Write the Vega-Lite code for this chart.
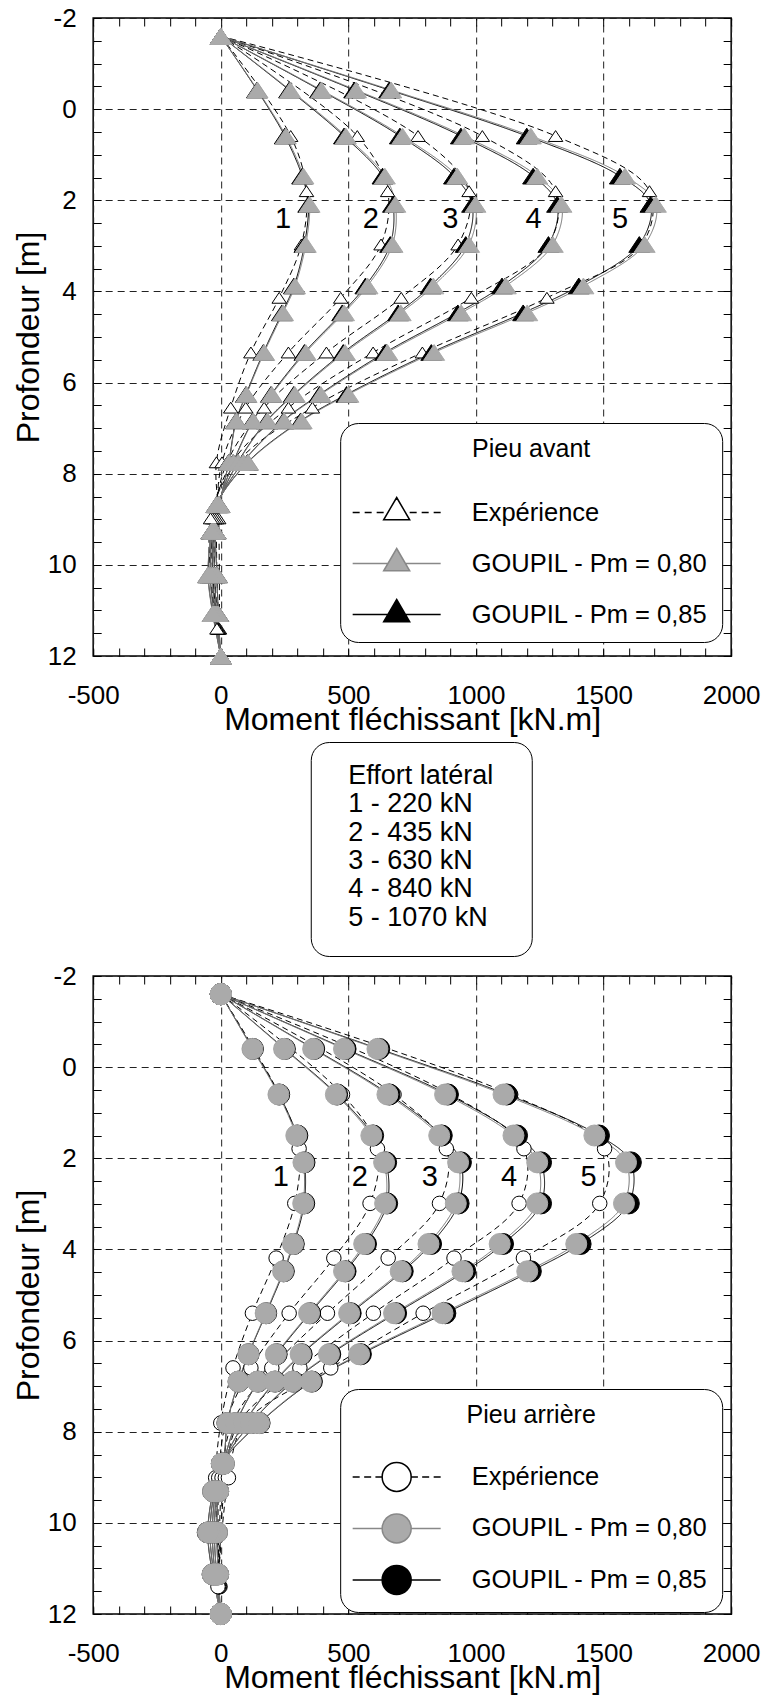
{
"$schema": "https://vega.github.io/schema/vega-lite/v6.json",
"background": "white",
"padding": {"left": 11, "top": 4, "right": 5, "bottom": 5},
"center": true,
"spacing": 5,
"config": {
  "font": "Liberation Sans",
  "view": {"stroke": "black", "strokeWidth": 1.5},
  "axis": {"labelFont": "Liberation Sans", "titleFont": "Liberation Sans", "labelColor": "black", "titleColor": "black", "titleFontWeight": "normal", "labelFontSize": 26, "titleFontSize": 32, "tickColor": "black", "tickWidth": 1, "gridColor": "#222222", "gridDash": [7, 5], "gridWidth": 1, "domain": false, "labelOverlap": false, "labelFlush": false},
  "legend": {"titleFont": "Liberation Sans", "labelFont": "Liberation Sans", "titleFontWeight": "normal", "titleColor": "black", "labelColor": "black"}
},
"datasets": {
"avant": [
{"serie":"Expérience","charge":1,"prof":-1.6,"moment":0},{"serie":"Expérience","charge":1,"prof":0.59,"moment":274},{"serie":"Expérience","charge":1,"prof":1.8,"moment":336},{"serie":"Expérience","charge":1,"prof":2.97,"moment":316},{"serie":"Expérience","charge":1,"prof":4.14,"moment":229},{"serie":"Expérience","charge":1,"prof":5.34,"moment":118},{"serie":"Expérience","charge":1,"prof":6.55,"moment":39},{"serie":"Expérience","charge":1,"prof":7.75,"moment":-17},{"serie":"Expérience","charge":1,"prof":8.98,"moment":-8},{"serie":"Expérience","charge":1,"prof":11.4,"moment":-5},
{"serie":"Expérience","charge":2,"prof":-1.6,"moment":0},{"serie":"Expérience","charge":2,"prof":0.59,"moment":535},{"serie":"Expérience","charge":2,"prof":1.8,"moment":654},{"serie":"Expérience","charge":2,"prof":2.97,"moment":628},{"serie":"Expérience","charge":2,"prof":4.14,"moment":470},{"serie":"Expérience","charge":2,"prof":5.34,"moment":265},{"serie":"Expérience","charge":2,"prof":6.55,"moment":98},{"serie":"Expérience","charge":2,"prof":7.75,"moment":5},{"serie":"Expérience","charge":2,"prof":8.98,"moment":-16},{"serie":"Expérience","charge":2,"prof":11.4,"moment":-8},
{"serie":"Expérience","charge":3,"prof":-1.6,"moment":0},{"serie":"Expérience","charge":3,"prof":0.59,"moment":773},{"serie":"Expérience","charge":3,"prof":1.8,"moment":973},{"serie":"Expérience","charge":3,"prof":2.97,"moment":930},{"serie":"Expérience","charge":3,"prof":4.14,"moment":707},{"serie":"Expérience","charge":3,"prof":5.34,"moment":414},{"serie":"Expérience","charge":3,"prof":6.55,"moment":170},{"serie":"Expérience","charge":3,"prof":7.75,"moment":25},{"serie":"Expérience","charge":3,"prof":8.98,"moment":-24},{"serie":"Expérience","charge":3,"prof":11.4,"moment":-10},
{"serie":"Expérience","charge":4,"prof":-1.6,"moment":0},{"serie":"Expérience","charge":4,"prof":0.59,"moment":1025},{"serie":"Expérience","charge":4,"prof":1.8,"moment":1312},{"serie":"Expérience","charge":4,"prof":2.97,"moment":1284},{"serie":"Expérience","charge":4,"prof":4.14,"moment":982},{"serie":"Expérience","charge":4,"prof":5.34,"moment":597},{"serie":"Expérience","charge":4,"prof":6.55,"moment":265},{"serie":"Expérience","charge":4,"prof":7.75,"moment":45},{"serie":"Expérience","charge":4,"prof":8.98,"moment":-32},{"serie":"Expérience","charge":4,"prof":11.4,"moment":-12},
{"serie":"Expérience","charge":5,"prof":-1.6,"moment":0},{"serie":"Expérience","charge":5,"prof":0.59,"moment":1312},{"serie":"Expérience","charge":5,"prof":1.8,"moment":1680},{"serie":"Expérience","charge":5,"prof":2.97,"moment":1650},{"serie":"Expérience","charge":5,"prof":4.14,"moment":1278},{"serie":"Expérience","charge":5,"prof":5.34,"moment":790},{"serie":"Expérience","charge":5,"prof":6.55,"moment":359},{"serie":"Expérience","charge":5,"prof":7.75,"moment":65},{"serie":"Expérience","charge":5,"prof":8.98,"moment":-40},{"serie":"Expérience","charge":5,"prof":11.4,"moment":-15},
{"serie":"GOUPIL - Pm = 0,85","charge":1,"prof":-1.6,"moment":0},{"serie":"GOUPIL - Pm = 0,85","charge":1,"prof":-0.42,"moment":142},{"serie":"GOUPIL - Pm = 0,85","charge":1,"prof":0.59,"moment":251},{"serie":"GOUPIL - Pm = 0,85","charge":1,"prof":1.47,"moment":319},{"serie":"GOUPIL - Pm = 0,85","charge":1,"prof":2.09,"moment":343},{"serie":"GOUPIL - Pm = 0,85","charge":1,"prof":2.97,"moment":328},{"serie":"GOUPIL - Pm = 0,85","charge":1,"prof":3.88,"moment":287},{"serie":"GOUPIL - Pm = 0,85","charge":1,"prof":4.47,"moment":240},{"serie":"GOUPIL - Pm = 0,85","charge":1,"prof":5.34,"moment":167},{"serie":"GOUPIL - Pm = 0,85","charge":1,"prof":6.26,"moment":99},{"serie":"GOUPIL - Pm = 0,85","charge":1,"prof":6.84,"moment":60},{"serie":"GOUPIL - Pm = 0,85","charge":1,"prof":7.75,"moment":31},{"serie":"GOUPIL - Pm = 0,85","charge":1,"prof":8.68,"moment":-5},{"serie":"GOUPIL - Pm = 0,85","charge":1,"prof":9.26,"moment":-20},{"serie":"GOUPIL - Pm = 0,85","charge":1,"prof":10.22,"moment":-15},{"serie":"GOUPIL - Pm = 0,85","charge":1,"prof":11.07,"moment":-10},{"serie":"GOUPIL - Pm = 0,85","charge":1,"prof":12,"moment":0},
{"serie":"GOUPIL - Pm = 0,85","charge":2,"prof":-1.6,"moment":0},{"serie":"GOUPIL - Pm = 0,85","charge":2,"prof":-0.42,"moment":268},{"serie":"GOUPIL - Pm = 0,85","charge":2,"prof":0.59,"moment":483},{"serie":"GOUPIL - Pm = 0,85","charge":2,"prof":1.47,"moment":634},{"serie":"GOUPIL - Pm = 0,85","charge":2,"prof":2.09,"moment":675},{"serie":"GOUPIL - Pm = 0,85","charge":2,"prof":2.97,"moment":664},{"serie":"GOUPIL - Pm = 0,85","charge":2,"prof":3.88,"moment":567},{"serie":"GOUPIL - Pm = 0,85","charge":2,"prof":4.47,"moment":476},{"serie":"GOUPIL - Pm = 0,85","charge":2,"prof":5.34,"moment":328},{"serie":"GOUPIL - Pm = 0,85","charge":2,"prof":6.26,"moment":197},{"serie":"GOUPIL - Pm = 0,85","charge":2,"prof":6.84,"moment":125},{"serie":"GOUPIL - Pm = 0,85","charge":2,"prof":7.75,"moment":49},{"serie":"GOUPIL - Pm = 0,85","charge":2,"prof":8.68,"moment":-8},{"serie":"GOUPIL - Pm = 0,85","charge":2,"prof":9.26,"moment":-25},{"serie":"GOUPIL - Pm = 0,85","charge":2,"prof":10.22,"moment":-24},{"serie":"GOUPIL - Pm = 0,85","charge":2,"prof":11.07,"moment":-16},{"serie":"GOUPIL - Pm = 0,85","charge":2,"prof":12,"moment":0},
{"serie":"GOUPIL - Pm = 0,85","charge":3,"prof":-1.6,"moment":0},{"serie":"GOUPIL - Pm = 0,85","charge":3,"prof":-0.42,"moment":389},{"serie":"GOUPIL - Pm = 0,85","charge":3,"prof":0.59,"moment":702},{"serie":"GOUPIL - Pm = 0,85","charge":3,"prof":1.47,"moment":914},{"serie":"GOUPIL - Pm = 0,85","charge":3,"prof":2.09,"moment":985},{"serie":"GOUPIL - Pm = 0,85","charge":3,"prof":2.97,"moment":960},{"serie":"GOUPIL - Pm = 0,85","charge":3,"prof":3.88,"moment":822},{"serie":"GOUPIL - Pm = 0,85","charge":3,"prof":4.47,"moment":695},{"serie":"GOUPIL - Pm = 0,85","charge":3,"prof":5.34,"moment":480},{"serie":"GOUPIL - Pm = 0,85","charge":3,"prof":6.26,"moment":286},{"serie":"GOUPIL - Pm = 0,85","charge":3,"prof":6.84,"moment":180},{"serie":"GOUPIL - Pm = 0,85","charge":3,"prof":7.75,"moment":67},{"serie":"GOUPIL - Pm = 0,85","charge":3,"prof":8.68,"moment":-11},{"serie":"GOUPIL - Pm = 0,85","charge":3,"prof":9.26,"moment":-29},{"serie":"GOUPIL - Pm = 0,85","charge":3,"prof":10.22,"moment":-32},{"serie":"GOUPIL - Pm = 0,85","charge":3,"prof":11.07,"moment":-21},{"serie":"GOUPIL - Pm = 0,85","charge":3,"prof":12,"moment":0},
{"serie":"GOUPIL - Pm = 0,85","charge":4,"prof":-1.6,"moment":0},{"serie":"GOUPIL - Pm = 0,85","charge":4,"prof":-0.42,"moment":523},{"serie":"GOUPIL - Pm = 0,85","charge":4,"prof":0.59,"moment":941},{"serie":"GOUPIL - Pm = 0,85","charge":4,"prof":1.47,"moment":1224},{"serie":"GOUPIL - Pm = 0,85","charge":4,"prof":2.09,"moment":1318},{"serie":"GOUPIL - Pm = 0,85","charge":4,"prof":2.97,"moment":1284},{"serie":"GOUPIL - Pm = 0,85","charge":4,"prof":3.88,"moment":1102},{"serie":"GOUPIL - Pm = 0,85","charge":4,"prof":4.47,"moment":929},{"serie":"GOUPIL - Pm = 0,85","charge":4,"prof":5.34,"moment":644},{"serie":"GOUPIL - Pm = 0,85","charge":4,"prof":6.26,"moment":387},{"serie":"GOUPIL - Pm = 0,85","charge":4,"prof":6.84,"moment":245},{"serie":"GOUPIL - Pm = 0,85","charge":4,"prof":7.75,"moment":87},{"serie":"GOUPIL - Pm = 0,85","charge":4,"prof":8.68,"moment":-14},{"serie":"GOUPIL - Pm = 0,85","charge":4,"prof":9.26,"moment":-33},{"serie":"GOUPIL - Pm = 0,85","charge":4,"prof":10.22,"moment":-41},{"serie":"GOUPIL - Pm = 0,85","charge":4,"prof":11.07,"moment":-26},{"serie":"GOUPIL - Pm = 0,85","charge":4,"prof":12,"moment":0},
{"serie":"GOUPIL - Pm = 0,85","charge":5,"prof":-1.6,"moment":0},{"serie":"GOUPIL - Pm = 0,85","charge":5,"prof":-0.42,"moment":660},{"serie":"GOUPIL - Pm = 0,85","charge":5,"prof":0.59,"moment":1199},{"serie":"GOUPIL - Pm = 0,85","charge":5,"prof":1.47,"moment":1564},{"serie":"GOUPIL - Pm = 0,85","charge":5,"prof":2.09,"moment":1684},{"serie":"GOUPIL - Pm = 0,85","charge":5,"prof":2.97,"moment":1640},{"serie":"GOUPIL - Pm = 0,85","charge":5,"prof":3.88,"moment":1403},{"serie":"GOUPIL - Pm = 0,85","charge":5,"prof":4.47,"moment":1185},{"serie":"GOUPIL - Pm = 0,85","charge":5,"prof":5.34,"moment":825},{"serie":"GOUPIL - Pm = 0,85","charge":5,"prof":6.26,"moment":493},{"serie":"GOUPIL - Pm = 0,85","charge":5,"prof":6.84,"moment":313},{"serie":"GOUPIL - Pm = 0,85","charge":5,"prof":7.75,"moment":105},{"serie":"GOUPIL - Pm = 0,85","charge":5,"prof":8.68,"moment":-17},{"serie":"GOUPIL - Pm = 0,85","charge":5,"prof":9.26,"moment":-37},{"serie":"GOUPIL - Pm = 0,85","charge":5,"prof":10.22,"moment":-49},{"serie":"GOUPIL - Pm = 0,85","charge":5,"prof":11.07,"moment":-31},{"serie":"GOUPIL - Pm = 0,85","charge":5,"prof":12,"moment":0},
{"serie":"GOUPIL - Pm = 0,80","charge":1,"prof":-1.6,"moment":0},{"serie":"GOUPIL - Pm = 0,80","charge":1,"prof":-0.42,"moment":144},{"serie":"GOUPIL - Pm = 0,80","charge":1,"prof":0.59,"moment":255},{"serie":"GOUPIL - Pm = 0,80","charge":1,"prof":1.47,"moment":324},{"serie":"GOUPIL - Pm = 0,80","charge":1,"prof":2.09,"moment":348},{"serie":"GOUPIL - Pm = 0,80","charge":1,"prof":2.97,"moment":333},{"serie":"GOUPIL - Pm = 0,80","charge":1,"prof":3.88,"moment":291},{"serie":"GOUPIL - Pm = 0,80","charge":1,"prof":4.47,"moment":244},{"serie":"GOUPIL - Pm = 0,80","charge":1,"prof":5.34,"moment":170},{"serie":"GOUPIL - Pm = 0,80","charge":1,"prof":6.26,"moment":101},{"serie":"GOUPIL - Pm = 0,80","charge":1,"prof":6.84,"moment":61},{"serie":"GOUPIL - Pm = 0,80","charge":1,"prof":7.75,"moment":32},{"serie":"GOUPIL - Pm = 0,80","charge":1,"prof":8.68,"moment":-5},{"serie":"GOUPIL - Pm = 0,80","charge":1,"prof":9.26,"moment":-20},{"serie":"GOUPIL - Pm = 0,80","charge":1,"prof":10.22,"moment":-15},{"serie":"GOUPIL - Pm = 0,80","charge":1,"prof":11.07,"moment":-10},{"serie":"GOUPIL - Pm = 0,80","charge":1,"prof":12,"moment":0},
{"serie":"GOUPIL - Pm = 0,80","charge":2,"prof":-1.6,"moment":0},{"serie":"GOUPIL - Pm = 0,80","charge":2,"prof":-0.42,"moment":272},{"serie":"GOUPIL - Pm = 0,80","charge":2,"prof":0.59,"moment":490},{"serie":"GOUPIL - Pm = 0,80","charge":2,"prof":1.47,"moment":643},{"serie":"GOUPIL - Pm = 0,80","charge":2,"prof":2.09,"moment":684},{"serie":"GOUPIL - Pm = 0,80","charge":2,"prof":2.97,"moment":673},{"serie":"GOUPIL - Pm = 0,80","charge":2,"prof":3.88,"moment":575},{"serie":"GOUPIL - Pm = 0,80","charge":2,"prof":4.47,"moment":483},{"serie":"GOUPIL - Pm = 0,80","charge":2,"prof":5.34,"moment":333},{"serie":"GOUPIL - Pm = 0,80","charge":2,"prof":6.26,"moment":200},{"serie":"GOUPIL - Pm = 0,80","charge":2,"prof":6.84,"moment":127},{"serie":"GOUPIL - Pm = 0,80","charge":2,"prof":7.75,"moment":50},{"serie":"GOUPIL - Pm = 0,80","charge":2,"prof":8.68,"moment":-8},{"serie":"GOUPIL - Pm = 0,80","charge":2,"prof":9.26,"moment":-25},{"serie":"GOUPIL - Pm = 0,80","charge":2,"prof":10.22,"moment":-25},{"serie":"GOUPIL - Pm = 0,80","charge":2,"prof":11.07,"moment":-16},{"serie":"GOUPIL - Pm = 0,80","charge":2,"prof":12,"moment":0},
{"serie":"GOUPIL - Pm = 0,80","charge":3,"prof":-1.6,"moment":0},{"serie":"GOUPIL - Pm = 0,80","charge":3,"prof":-0.42,"moment":394},{"serie":"GOUPIL - Pm = 0,80","charge":3,"prof":0.59,"moment":712},{"serie":"GOUPIL - Pm = 0,80","charge":3,"prof":1.47,"moment":927},{"serie":"GOUPIL - Pm = 0,80","charge":3,"prof":2.09,"moment":998},{"serie":"GOUPIL - Pm = 0,80","charge":3,"prof":2.97,"moment":973},{"serie":"GOUPIL - Pm = 0,80","charge":3,"prof":3.88,"moment":833},{"serie":"GOUPIL - Pm = 0,80","charge":3,"prof":4.47,"moment":705},{"serie":"GOUPIL - Pm = 0,80","charge":3,"prof":5.34,"moment":487},{"serie":"GOUPIL - Pm = 0,80","charge":3,"prof":6.26,"moment":290},{"serie":"GOUPIL - Pm = 0,80","charge":3,"prof":6.84,"moment":183},{"serie":"GOUPIL - Pm = 0,80","charge":3,"prof":7.75,"moment":68},{"serie":"GOUPIL - Pm = 0,80","charge":3,"prof":8.68,"moment":-11},{"serie":"GOUPIL - Pm = 0,80","charge":3,"prof":9.26,"moment":-29},{"serie":"GOUPIL - Pm = 0,80","charge":3,"prof":10.22,"moment":-33},{"serie":"GOUPIL - Pm = 0,80","charge":3,"prof":11.07,"moment":-22},{"serie":"GOUPIL - Pm = 0,80","charge":3,"prof":12,"moment":0},
{"serie":"GOUPIL - Pm = 0,80","charge":4,"prof":-1.6,"moment":0},{"serie":"GOUPIL - Pm = 0,80","charge":4,"prof":-0.42,"moment":530},{"serie":"GOUPIL - Pm = 0,80","charge":4,"prof":0.59,"moment":954},{"serie":"GOUPIL - Pm = 0,80","charge":4,"prof":1.47,"moment":1240},{"serie":"GOUPIL - Pm = 0,80","charge":4,"prof":2.09,"moment":1335},{"serie":"GOUPIL - Pm = 0,80","charge":4,"prof":2.97,"moment":1301},{"serie":"GOUPIL - Pm = 0,80","charge":4,"prof":3.88,"moment":1117},{"serie":"GOUPIL - Pm = 0,80","charge":4,"prof":4.47,"moment":942},{"serie":"GOUPIL - Pm = 0,80","charge":4,"prof":5.34,"moment":653},{"serie":"GOUPIL - Pm = 0,80","charge":4,"prof":6.26,"moment":392},{"serie":"GOUPIL - Pm = 0,80","charge":4,"prof":6.84,"moment":248},{"serie":"GOUPIL - Pm = 0,80","charge":4,"prof":7.75,"moment":88},{"serie":"GOUPIL - Pm = 0,80","charge":4,"prof":8.68,"moment":-14},{"serie":"GOUPIL - Pm = 0,80","charge":4,"prof":9.26,"moment":-33},{"serie":"GOUPIL - Pm = 0,80","charge":4,"prof":10.22,"moment":-42},{"serie":"GOUPIL - Pm = 0,80","charge":4,"prof":11.07,"moment":-27},{"serie":"GOUPIL - Pm = 0,80","charge":4,"prof":12,"moment":0},
{"serie":"GOUPIL - Pm = 0,80","charge":5,"prof":-1.6,"moment":0},{"serie":"GOUPIL - Pm = 0,80","charge":5,"prof":-0.42,"moment":668},{"serie":"GOUPIL - Pm = 0,80","charge":5,"prof":0.59,"moment":1215},{"serie":"GOUPIL - Pm = 0,80","charge":5,"prof":1.47,"moment":1584},{"serie":"GOUPIL - Pm = 0,80","charge":5,"prof":2.09,"moment":1705},{"serie":"GOUPIL - Pm = 0,80","charge":5,"prof":2.97,"moment":1661},{"serie":"GOUPIL - Pm = 0,80","charge":5,"prof":3.88,"moment":1421},{"serie":"GOUPIL - Pm = 0,80","charge":5,"prof":4.47,"moment":1201},{"serie":"GOUPIL - Pm = 0,80","charge":5,"prof":5.34,"moment":836},{"serie":"GOUPIL - Pm = 0,80","charge":5,"prof":6.26,"moment":500},{"serie":"GOUPIL - Pm = 0,80","charge":5,"prof":6.84,"moment":317},{"serie":"GOUPIL - Pm = 0,80","charge":5,"prof":7.75,"moment":107},{"serie":"GOUPIL - Pm = 0,80","charge":5,"prof":8.68,"moment":-17},{"serie":"GOUPIL - Pm = 0,80","charge":5,"prof":9.26,"moment":-37},{"serie":"GOUPIL - Pm = 0,80","charge":5,"prof":10.22,"moment":-50},{"serie":"GOUPIL - Pm = 0,80","charge":5,"prof":11.07,"moment":-32},{"serie":"GOUPIL - Pm = 0,80","charge":5,"prof":12,"moment":0}
],
"arriere": [
{"serie":"Expérience","charge":1,"prof":-1.6,"moment":0},{"serie":"Expérience","charge":1,"prof":0.6,"moment":229},{"serie":"Expérience","charge":1,"prof":1.79,"moment":307},{"serie":"Expérience","charge":1,"prof":2.99,"moment":290},{"serie":"Expérience","charge":1,"prof":4.19,"moment":217},{"serie":"Expérience","charge":1,"prof":5.4,"moment":124},{"serie":"Expérience","charge":1,"prof":6.6,"moment":48},{"serie":"Expérience","charge":1,"prof":7.81,"moment":0},{"serie":"Expérience","charge":1,"prof":9.01,"moment":-20},{"serie":"Expérience","charge":1,"prof":11.4,"moment":-3},
{"serie":"Expérience","charge":2,"prof":-1.6,"moment":0},{"serie":"Expérience","charge":2,"prof":0.6,"moment":477},{"serie":"Expérience","charge":2,"prof":1.79,"moment":614},{"serie":"Expérience","charge":2,"prof":2.99,"moment":585},{"serie":"Expérience","charge":2,"prof":4.19,"moment":443},{"serie":"Expérience","charge":2,"prof":5.4,"moment":268},{"serie":"Expérience","charge":2,"prof":6.6,"moment":118},{"serie":"Expérience","charge":2,"prof":7.81,"moment":20},{"serie":"Expérience","charge":2,"prof":9.01,"moment":-8},{"serie":"Expérience","charge":2,"prof":11.4,"moment":-5},
{"serie":"Expérience","charge":3,"prof":-1.6,"moment":0},{"serie":"Expérience","charge":3,"prof":0.6,"moment":679},{"serie":"Expérience","charge":3,"prof":1.79,"moment":884},{"serie":"Expérience","charge":3,"prof":2.99,"moment":857},{"serie":"Expérience","charge":3,"prof":4.19,"moment":656},{"serie":"Expérience","charge":3,"prof":5.4,"moment":418},{"serie":"Expérience","charge":3,"prof":6.6,"moment":200},{"serie":"Expérience","charge":3,"prof":7.81,"moment":45},{"serie":"Expérience","charge":3,"prof":9.01,"moment":5},{"serie":"Expérience","charge":3,"prof":11.4,"moment":-7},
{"serie":"Expérience","charge":4,"prof":-1.6,"moment":0},{"serie":"Expérience","charge":4,"prof":0.6,"moment":901},{"serie":"Expérience","charge":4,"prof":1.79,"moment":1188},{"serie":"Expérience","charge":4,"prof":2.99,"moment":1169},{"serie":"Expérience","charge":4,"prof":4.19,"moment":914},{"serie":"Expérience","charge":4,"prof":5.4,"moment":598},{"serie":"Expérience","charge":4,"prof":6.6,"moment":310},{"serie":"Expérience","charge":4,"prof":7.81,"moment":70},{"serie":"Expérience","charge":4,"prof":9.01,"moment":18},{"serie":"Expérience","charge":4,"prof":11.4,"moment":-9},
{"serie":"Expérience","charge":5,"prof":-1.6,"moment":0},{"serie":"Expérience","charge":5,"prof":0.6,"moment":1136},{"serie":"Expérience","charge":5,"prof":1.79,"moment":1504},{"serie":"Expérience","charge":5,"prof":2.99,"moment":1485},{"serie":"Expérience","charge":5,"prof":4.19,"moment":1186},{"serie":"Expérience","charge":5,"prof":5.4,"moment":793},{"serie":"Expérience","charge":5,"prof":6.6,"moment":431},{"serie":"Expérience","charge":5,"prof":7.81,"moment":95},{"serie":"Expérience","charge":5,"prof":9.01,"moment":30},{"serie":"Expérience","charge":5,"prof":11.4,"moment":-11},
{"serie":"GOUPIL - Pm = 0,85","charge":1,"prof":-1.6,"moment":0},{"serie":"GOUPIL - Pm = 0,85","charge":1,"prof":-0.4,"moment":126},{"serie":"GOUPIL - Pm = 0,85","charge":1,"prof":0.6,"moment":229},{"serie":"GOUPIL - Pm = 0,85","charge":1,"prof":1.5,"moment":300},{"serie":"GOUPIL - Pm = 0,85","charge":1,"prof":2.09,"moment":328},{"serie":"GOUPIL - Pm = 0,85","charge":1,"prof":2.99,"moment":327},{"serie":"GOUPIL - Pm = 0,85","charge":1,"prof":3.88,"moment":286},{"serie":"GOUPIL - Pm = 0,85","charge":1,"prof":4.48,"moment":247},{"serie":"GOUPIL - Pm = 0,85","charge":1,"prof":5.4,"moment":178},{"serie":"GOUPIL - Pm = 0,85","charge":1,"prof":6.3,"moment":109},{"serie":"GOUPIL - Pm = 0,85","charge":1,"prof":6.9,"moment":70},{"serie":"GOUPIL - Pm = 0,85","charge":1,"prof":7.81,"moment":26},{"serie":"GOUPIL - Pm = 0,85","charge":1,"prof":8.7,"moment":12},{"serie":"GOUPIL - Pm = 0,85","charge":1,"prof":9.31,"moment":-10},{"serie":"GOUPIL - Pm = 0,85","charge":1,"prof":10.21,"moment":-15},{"serie":"GOUPIL - Pm = 0,85","charge":1,"prof":11.13,"moment":-10},{"serie":"GOUPIL - Pm = 0,85","charge":1,"prof":12,"moment":0},
{"serie":"GOUPIL - Pm = 0,85","charge":2,"prof":-1.6,"moment":0},{"serie":"GOUPIL - Pm = 0,85","charge":2,"prof":-0.4,"moment":251},{"serie":"GOUPIL - Pm = 0,85","charge":2,"prof":0.6,"moment":456},{"serie":"GOUPIL - Pm = 0,85","charge":2,"prof":1.5,"moment":597},{"serie":"GOUPIL - Pm = 0,85","charge":2,"prof":2.09,"moment":648},{"serie":"GOUPIL - Pm = 0,85","charge":2,"prof":2.99,"moment":652},{"serie":"GOUPIL - Pm = 0,85","charge":2,"prof":3.88,"moment":569},{"serie":"GOUPIL - Pm = 0,85","charge":2,"prof":4.48,"moment":489},{"serie":"GOUPIL - Pm = 0,85","charge":2,"prof":5.4,"moment":350},{"serie":"GOUPIL - Pm = 0,85","charge":2,"prof":6.3,"moment":219},{"serie":"GOUPIL - Pm = 0,85","charge":2,"prof":6.9,"moment":146},{"serie":"GOUPIL - Pm = 0,85","charge":2,"prof":7.81,"moment":60},{"serie":"GOUPIL - Pm = 0,85","charge":2,"prof":8.7,"moment":10},{"serie":"GOUPIL - Pm = 0,85","charge":2,"prof":9.31,"moment":-15},{"serie":"GOUPIL - Pm = 0,85","charge":2,"prof":10.21,"moment":-25},{"serie":"GOUPIL - Pm = 0,85","charge":2,"prof":11.13,"moment":-16},{"serie":"GOUPIL - Pm = 0,85","charge":2,"prof":12,"moment":0},
{"serie":"GOUPIL - Pm = 0,85","charge":3,"prof":-1.6,"moment":0},{"serie":"GOUPIL - Pm = 0,85","charge":3,"prof":-0.4,"moment":366},{"serie":"GOUPIL - Pm = 0,85","charge":3,"prof":0.6,"moment":661},{"serie":"GOUPIL - Pm = 0,85","charge":3,"prof":1.5,"moment":866},{"serie":"GOUPIL - Pm = 0,85","charge":3,"prof":2.09,"moment":941},{"serie":"GOUPIL - Pm = 0,85","charge":3,"prof":2.99,"moment":932},{"serie":"GOUPIL - Pm = 0,85","charge":3,"prof":3.88,"moment":824},{"serie":"GOUPIL - Pm = 0,85","charge":3,"prof":4.48,"moment":713},{"serie":"GOUPIL - Pm = 0,85","charge":3,"prof":5.4,"moment":509},{"serie":"GOUPIL - Pm = 0,85","charge":3,"prof":6.3,"moment":317},{"serie":"GOUPIL - Pm = 0,85","charge":3,"prof":6.9,"moment":213},{"serie":"GOUPIL - Pm = 0,85","charge":3,"prof":7.81,"moment":92},{"serie":"GOUPIL - Pm = 0,85","charge":3,"prof":8.7,"moment":8},{"serie":"GOUPIL - Pm = 0,85","charge":3,"prof":9.31,"moment":-20},{"serie":"GOUPIL - Pm = 0,85","charge":3,"prof":10.21,"moment":-33},{"serie":"GOUPIL - Pm = 0,85","charge":3,"prof":11.13,"moment":-22},{"serie":"GOUPIL - Pm = 0,85","charge":3,"prof":12,"moment":0},
{"serie":"GOUPIL - Pm = 0,85","charge":4,"prof":-1.6,"moment":0},{"serie":"GOUPIL - Pm = 0,85","charge":4,"prof":-0.4,"moment":489},{"serie":"GOUPIL - Pm = 0,85","charge":4,"prof":0.6,"moment":890},{"serie":"GOUPIL - Pm = 0,85","charge":4,"prof":1.5,"moment":1161},{"serie":"GOUPIL - Pm = 0,85","charge":4,"prof":2.09,"moment":1255},{"serie":"GOUPIL - Pm = 0,85","charge":4,"prof":2.99,"moment":1255},{"serie":"GOUPIL - Pm = 0,85","charge":4,"prof":3.88,"moment":1106},{"serie":"GOUPIL - Pm = 0,85","charge":4,"prof":4.48,"moment":958},{"serie":"GOUPIL - Pm = 0,85","charge":4,"prof":5.4,"moment":687},{"serie":"GOUPIL - Pm = 0,85","charge":4,"prof":6.3,"moment":429},{"serie":"GOUPIL - Pm = 0,85","charge":4,"prof":6.9,"moment":284},{"serie":"GOUPIL - Pm = 0,85","charge":4,"prof":7.81,"moment":119},{"serie":"GOUPIL - Pm = 0,85","charge":4,"prof":8.7,"moment":6},{"serie":"GOUPIL - Pm = 0,85","charge":4,"prof":9.31,"moment":-25},{"serie":"GOUPIL - Pm = 0,85","charge":4,"prof":10.21,"moment":-42},{"serie":"GOUPIL - Pm = 0,85","charge":4,"prof":11.13,"moment":-27},{"serie":"GOUPIL - Pm = 0,85","charge":4,"prof":12,"moment":0},
{"serie":"GOUPIL - Pm = 0,85","charge":5,"prof":-1.6,"moment":0},{"serie":"GOUPIL - Pm = 0,85","charge":5,"prof":-0.4,"moment":621},{"serie":"GOUPIL - Pm = 0,85","charge":5,"prof":0.6,"moment":1121},{"serie":"GOUPIL - Pm = 0,85","charge":5,"prof":1.5,"moment":1482},{"serie":"GOUPIL - Pm = 0,85","charge":5,"prof":2.09,"moment":1607},{"serie":"GOUPIL - Pm = 0,85","charge":5,"prof":2.99,"moment":1599},{"serie":"GOUPIL - Pm = 0,85","charge":5,"prof":3.88,"moment":1410},{"serie":"GOUPIL - Pm = 0,85","charge":5,"prof":4.48,"moment":1215},{"serie":"GOUPIL - Pm = 0,85","charge":5,"prof":5.4,"moment":880},{"serie":"GOUPIL - Pm = 0,85","charge":5,"prof":6.3,"moment":549},{"serie":"GOUPIL - Pm = 0,85","charge":5,"prof":6.9,"moment":357},{"serie":"GOUPIL - Pm = 0,85","charge":5,"prof":7.81,"moment":152},{"serie":"GOUPIL - Pm = 0,85","charge":5,"prof":8.7,"moment":4},{"serie":"GOUPIL - Pm = 0,85","charge":5,"prof":9.31,"moment":-30},{"serie":"GOUPIL - Pm = 0,85","charge":5,"prof":10.21,"moment":-51},{"serie":"GOUPIL - Pm = 0,85","charge":5,"prof":11.13,"moment":-32},{"serie":"GOUPIL - Pm = 0,85","charge":5,"prof":12,"moment":0},
{"serie":"GOUPIL - Pm = 0,80","charge":1,"prof":-1.6,"moment":0},{"serie":"GOUPIL - Pm = 0,80","charge":1,"prof":-0.4,"moment":124},{"serie":"GOUPIL - Pm = 0,80","charge":1,"prof":0.6,"moment":226},{"serie":"GOUPIL - Pm = 0,80","charge":1,"prof":1.5,"moment":296},{"serie":"GOUPIL - Pm = 0,80","charge":1,"prof":2.09,"moment":324},{"serie":"GOUPIL - Pm = 0,80","charge":1,"prof":2.99,"moment":323},{"serie":"GOUPIL - Pm = 0,80","charge":1,"prof":3.88,"moment":283},{"serie":"GOUPIL - Pm = 0,80","charge":1,"prof":4.48,"moment":244},{"serie":"GOUPIL - Pm = 0,80","charge":1,"prof":5.4,"moment":176},{"serie":"GOUPIL - Pm = 0,80","charge":1,"prof":6.3,"moment":108},{"serie":"GOUPIL - Pm = 0,80","charge":1,"prof":6.9,"moment":69},{"serie":"GOUPIL - Pm = 0,80","charge":1,"prof":7.81,"moment":26},{"serie":"GOUPIL - Pm = 0,80","charge":1,"prof":8.7,"moment":12},{"serie":"GOUPIL - Pm = 0,80","charge":1,"prof":9.31,"moment":-10},{"serie":"GOUPIL - Pm = 0,80","charge":1,"prof":10.21,"moment":-15},{"serie":"GOUPIL - Pm = 0,80","charge":1,"prof":11.13,"moment":-10},{"serie":"GOUPIL - Pm = 0,80","charge":1,"prof":12,"moment":0},
{"serie":"GOUPIL - Pm = 0,80","charge":2,"prof":-1.6,"moment":0},{"serie":"GOUPIL - Pm = 0,80","charge":2,"prof":-0.4,"moment":248},{"serie":"GOUPIL - Pm = 0,80","charge":2,"prof":0.6,"moment":451},{"serie":"GOUPIL - Pm = 0,80","charge":2,"prof":1.5,"moment":590},{"serie":"GOUPIL - Pm = 0,80","charge":2,"prof":2.09,"moment":640},{"serie":"GOUPIL - Pm = 0,80","charge":2,"prof":2.99,"moment":644},{"serie":"GOUPIL - Pm = 0,80","charge":2,"prof":3.88,"moment":562},{"serie":"GOUPIL - Pm = 0,80","charge":2,"prof":4.48,"moment":483},{"serie":"GOUPIL - Pm = 0,80","charge":2,"prof":5.4,"moment":346},{"serie":"GOUPIL - Pm = 0,80","charge":2,"prof":6.3,"moment":216},{"serie":"GOUPIL - Pm = 0,80","charge":2,"prof":6.9,"moment":144},{"serie":"GOUPIL - Pm = 0,80","charge":2,"prof":7.81,"moment":59},{"serie":"GOUPIL - Pm = 0,80","charge":2,"prof":8.7,"moment":10},{"serie":"GOUPIL - Pm = 0,80","charge":2,"prof":9.31,"moment":-15},{"serie":"GOUPIL - Pm = 0,80","charge":2,"prof":10.21,"moment":-25},{"serie":"GOUPIL - Pm = 0,80","charge":2,"prof":11.13,"moment":-16},{"serie":"GOUPIL - Pm = 0,80","charge":2,"prof":12,"moment":0},
{"serie":"GOUPIL - Pm = 0,80","charge":3,"prof":-1.6,"moment":0},{"serie":"GOUPIL - Pm = 0,80","charge":3,"prof":-0.4,"moment":362},{"serie":"GOUPIL - Pm = 0,80","charge":3,"prof":0.6,"moment":653},{"serie":"GOUPIL - Pm = 0,80","charge":3,"prof":1.5,"moment":856},{"serie":"GOUPIL - Pm = 0,80","charge":3,"prof":2.09,"moment":930},{"serie":"GOUPIL - Pm = 0,80","charge":3,"prof":2.99,"moment":921},{"serie":"GOUPIL - Pm = 0,80","charge":3,"prof":3.88,"moment":814},{"serie":"GOUPIL - Pm = 0,80","charge":3,"prof":4.48,"moment":705},{"serie":"GOUPIL - Pm = 0,80","charge":3,"prof":5.4,"moment":503},{"serie":"GOUPIL - Pm = 0,80","charge":3,"prof":6.3,"moment":313},{"serie":"GOUPIL - Pm = 0,80","charge":3,"prof":6.9,"moment":210},{"serie":"GOUPIL - Pm = 0,80","charge":3,"prof":7.81,"moment":91},{"serie":"GOUPIL - Pm = 0,80","charge":3,"prof":8.7,"moment":8},{"serie":"GOUPIL - Pm = 0,80","charge":3,"prof":9.31,"moment":-20},{"serie":"GOUPIL - Pm = 0,80","charge":3,"prof":10.21,"moment":-33},{"serie":"GOUPIL - Pm = 0,80","charge":3,"prof":11.13,"moment":-22},{"serie":"GOUPIL - Pm = 0,80","charge":3,"prof":12,"moment":0},
{"serie":"GOUPIL - Pm = 0,80","charge":4,"prof":-1.6,"moment":0},{"serie":"GOUPIL - Pm = 0,80","charge":4,"prof":-0.4,"moment":483},{"serie":"GOUPIL - Pm = 0,80","charge":4,"prof":0.6,"moment":879},{"serie":"GOUPIL - Pm = 0,80","charge":4,"prof":1.5,"moment":1147},{"serie":"GOUPIL - Pm = 0,80","charge":4,"prof":2.09,"moment":1240},{"serie":"GOUPIL - Pm = 0,80","charge":4,"prof":2.99,"moment":1240},{"serie":"GOUPIL - Pm = 0,80","charge":4,"prof":3.88,"moment":1093},{"serie":"GOUPIL - Pm = 0,80","charge":4,"prof":4.48,"moment":947},{"serie":"GOUPIL - Pm = 0,80","charge":4,"prof":5.4,"moment":679},{"serie":"GOUPIL - Pm = 0,80","charge":4,"prof":6.3,"moment":424},{"serie":"GOUPIL - Pm = 0,80","charge":4,"prof":6.9,"moment":281},{"serie":"GOUPIL - Pm = 0,80","charge":4,"prof":7.81,"moment":118},{"serie":"GOUPIL - Pm = 0,80","charge":4,"prof":8.7,"moment":6},{"serie":"GOUPIL - Pm = 0,80","charge":4,"prof":9.31,"moment":-25},{"serie":"GOUPIL - Pm = 0,80","charge":4,"prof":10.21,"moment":-42},{"serie":"GOUPIL - Pm = 0,80","charge":4,"prof":11.13,"moment":-27},{"serie":"GOUPIL - Pm = 0,80","charge":4,"prof":12,"moment":0},
{"serie":"GOUPIL - Pm = 0,80","charge":5,"prof":-1.6,"moment":0},{"serie":"GOUPIL - Pm = 0,80","charge":5,"prof":-0.4,"moment":614},{"serie":"GOUPIL - Pm = 0,80","charge":5,"prof":0.6,"moment":1108},{"serie":"GOUPIL - Pm = 0,80","charge":5,"prof":1.5,"moment":1464},{"serie":"GOUPIL - Pm = 0,80","charge":5,"prof":2.09,"moment":1588},{"serie":"GOUPIL - Pm = 0,80","charge":5,"prof":2.99,"moment":1580},{"serie":"GOUPIL - Pm = 0,80","charge":5,"prof":3.88,"moment":1393},{"serie":"GOUPIL - Pm = 0,80","charge":5,"prof":4.48,"moment":1201},{"serie":"GOUPIL - Pm = 0,80","charge":5,"prof":5.4,"moment":869},{"serie":"GOUPIL - Pm = 0,80","charge":5,"prof":6.3,"moment":542},{"serie":"GOUPIL - Pm = 0,80","charge":5,"prof":6.9,"moment":353},{"serie":"GOUPIL - Pm = 0,80","charge":5,"prof":7.81,"moment":150},{"serie":"GOUPIL - Pm = 0,80","charge":5,"prof":8.7,"moment":4},{"serie":"GOUPIL - Pm = 0,80","charge":5,"prof":9.31,"moment":-30},{"serie":"GOUPIL - Pm = 0,80","charge":5,"prof":10.21,"moment":-50},{"serie":"GOUPIL - Pm = 0,80","charge":5,"prof":11.13,"moment":-32},{"serie":"GOUPIL - Pm = 0,80","charge":5,"prof":12,"moment":0}
],
"numAvant": [
{"num":"1","prof":2.42,"moment":244},{"num":"2","prof":2.42,"moment":588},{"num":"3","prof":2.42,"moment":899},{"num":"4","prof":2.42,"moment":1226},{"num":"5","prof":2.42,"moment":1565}
],
"numArriere": [
{"num":"1","prof":2.42,"moment":235},{"num":"2","prof":2.42,"moment":545},{"num":"3","prof":2.42,"moment":819},{"num":"4","prof":2.42,"moment":1130},{"num":"5","prof":2.42,"moment":1441}
],
"effort": [
{"rang":0,"ligne":"Effort latéral"},{"rang":1,"ligne":"1 - 220 kN"},{"rang":2,"ligne":"2 - 435 kN"},{"rang":3,"ligne":"3 - 630 kN"},{"rang":4,"ligne":"4 - 840 kN"},{"rang":5,"ligne":"5 - 1070 kN"}
]
},
"vconcat": [
{
  "width": 638, "height": 638,
  "layer": [
    {
      "data": {"name": "avant"},
      "mark": {"type": "line", "interpolate": "catmull-rom", "strokeWidth": 1},
      "encoding": {
        "x": {"field": "moment", "type": "quantitative", "scale": {"domain": [-500, 2000], "nice": false, "zero": false},
              "axis": {"orient": "bottom", "values": [-500, 0, 500, 1000, 1500, 2000], "labelExpr": "'' + datum.value", "ticks": false, "tickSize": 0, "labelPadding": 26, "grid": true, "title": "Moment fléchissant [kN.m]", "titlePadding": -4}},
        "y": {"field": "prof", "type": "quantitative", "scale": {"domain": [-2, 12], "reverse": true, "nice": false, "zero": false},
              "axis": {"orient": "left", "values": [-2, 0, 2, 4, 6, 8, 10, 12], "labelExpr": "'' + datum.value", "ticks": false, "tickSize": 0, "labelPadding": 17, "grid": true, "title": "Profondeur [m]", "titlePadding": 2}},
        "detail": {"field": "charge", "type": "nominal"},
        "order": {"field": "prof", "type": "quantitative"},
        "stroke": {"field": "serie", "type": "nominal", "scale": {"domain": ["Expérience", "GOUPIL - Pm = 0,80", "GOUPIL - Pm = 0,85"], "range": ["black", "#777777", "black"]}, "legend": null},
        "strokeDash": {"field": "serie", "type": "nominal", "scale": {"domain": ["Expérience", "GOUPIL - Pm = 0,80", "GOUPIL - Pm = 0,85"], "range": [[6, 4], [1, 0], [1, 0]]}, "legend": null}
      }
    },
    {
      "data": {"name": "avant"},
      "mark": {"type": "point", "filled": true, "opacity": 1, "shape": "M0,-0.75L1,0.75L-1,0.75Z", "strokeWidth": 1},
      "encoding": {
        "x": {"field": "moment", "type": "quantitative", "scale": {"domain": [-500, 2000], "nice": false, "zero": false},
              "axis": {"orient": "bottom", "values": [-500,-400,-300,-200,-100,0,100,200,300,400,500,600,700,800,900,1000,1100,1200,1300,1400,1500,1600,1700,1800,1900,2000], "labels": false, "ticks": true, "tickSize": -8, "grid": false, "title": null}},
        "y": {"field": "prof", "type": "quantitative", "scale": {"domain": [-2, 12], "reverse": true, "nice": false, "zero": false},
              "axis": {"orient": "left", "values": [-2,-1.5,-1,-0.5,0,0.5,1,1.5,2,2.5,3,3.5,4,4.5,5,5.5,6,6.5,7,7.5,8,8.5,9,9.5,10,10.5,11,11.5,12], "labels": false, "ticks": true, "tickSize": -8, "grid": false, "title": null}},
        "fill": {"field": "serie", "type": "nominal", "scale": {"domain": ["Expérience", "GOUPIL - Pm = 0,80", "GOUPIL - Pm = 0,85"], "range": ["white", "#aaaaaa", "black"]}, "legend": null},
        "stroke": {"field": "serie", "type": "nominal", "scale": {"domain": ["Expérience", "GOUPIL - Pm = 0,80", "GOUPIL - Pm = 0,85"], "range": ["black", "#aaaaaa", "black"]}, "legend": null},
        "size": {"field": "serie", "type": "nominal", "scale": {"type": "ordinal", "domain": ["Expérience", "GOUPIL - Pm = 0,80", "GOUPIL - Pm = 0,85"], "range": [210, 441, 441]}, "legend": null}
      }
    },
    {
      "data": {"name": "avant"},
      "transform": [{"filter": "false"}],
      "mark": {"type": "point", "filled": true, "opacity": 1, "strokeWidth": 1.2},
      "encoding": {
        "x": {"field": "moment", "type": "quantitative", "scale": {"domain": [-500, 2000], "nice": false, "zero": false}, "axis": null},
        "y": {"field": "prof", "type": "quantitative", "scale": {"domain": [-2, 12], "reverse": true, "nice": false, "zero": false}, "axis": null},
        "shape": {"field": "serie", "type": "nominal", "scale": {"domain": ["Expérience", "GOUPIL - Pm = 0,80", "GOUPIL - Pm = 0,85"], "range": ["M-3.52,0L-2.96,0M-2.56,0L-2,0M-1.6,0L-1.04,0M1.04,0L1.6,0M2,0L2.56,0M2.96,0L3.52,0M0,-1.2L1.04,0.58L-1.04,0.58Z", "M-3.52,0L-0.7,0M0.7,0L3.52,0M0,-1.2L1.04,0.58L-1.04,0.58Z", "M-3.52,0L-0.7,0M0.7,0L3.52,0M0,-1.2L1.04,0.58L-1.04,0.58Z"]},
                  "legend": {"title": "Pieu avant", "orient": "none", "legendX": 247, "legendY": 405, "direction": "vertical", "padding": 14, "strokeColor": "black", "cornerRadius": 18, "fillColor": "white", "titleFontSize": 25, "titleAnchor": "middle", "titlePadding": 37, "labelFontSize": 25.5, "labelOffset": 61.5, "labelLimit": 400, "symbolSize": 625, "symbolOffset": 29, "rowPadding": 19}},
        "fill": {"field": "serie", "type": "nominal", "scale": {"domain": ["Expérience", "GOUPIL - Pm = 0,80", "GOUPIL - Pm = 0,85"], "range": ["white", "#aaaaaa", "black"]},
                  "legend": {"title": "Pieu avant", "orient": "none", "legendX": 247, "legendY": 405, "direction": "vertical", "padding": 14, "strokeColor": "black", "cornerRadius": 18, "fillColor": "white", "titleFontSize": 25, "titleAnchor": "middle", "titlePadding": 37, "labelFontSize": 25.5, "labelOffset": 61.5, "labelLimit": 400, "symbolSize": 625, "symbolOffset": 29, "rowPadding": 19}},
        "stroke": {"field": "serie", "type": "nominal", "scale": {"domain": ["Expérience", "GOUPIL - Pm = 0,80", "GOUPIL - Pm = 0,85"], "range": ["black", "#888888", "black"]},
                  "legend": {"title": "Pieu avant", "orient": "none", "legendX": 247, "legendY": 405, "direction": "vertical", "padding": 14, "strokeColor": "black", "cornerRadius": 18, "fillColor": "white", "titleFontSize": 25, "titleAnchor": "middle", "titlePadding": 37, "labelFontSize": 25.5, "labelOffset": 61.5, "labelLimit": 400, "symbolSize": 625, "symbolOffset": 29, "rowPadding": 19}}
      }
    },
    {
      "data": {"name": "numAvant"},
      "mark": {"type": "text", "fontSize": 29, "align": "center", "baseline": "middle", "color": "black"},
      "encoding": {
        "x": {"field": "moment", "type": "quantitative", "scale": {"domain": [-500, 2000], "nice": false, "zero": false},
              "axis": {"orient": "top", "values": [-500,-400,-300,-200,-100,0,100,200,300,400,500,600,700,800,900,1000,1100,1200,1300,1400,1500,1600,1700,1800,1900,2000], "labels": false, "ticks": true, "tickSize": -8, "grid": false, "title": null}},
        "y": {"field": "prof", "type": "quantitative", "scale": {"domain": [-2, 12], "reverse": true, "nice": false, "zero": false},
              "axis": {"orient": "right", "values": [-2,-1.5,-1,-0.5,0,0.5,1,1.5,2,2.5,3,3.5,4,4.5,5,5.5,6,6.5,7,7.5,8,8.5,9,9.5,10,10.5,11,11.5,12], "labels": false, "ticks": true, "tickSize": -8, "grid": false, "title": null}},
        "text": {"field": "num"}
      }
    }
  ],
  "resolve": {"axis": {"x": "independent", "y": "independent"}, "scale": {"stroke": "independent", "fill": "independent", "shape": "independent"}}
},
{
  "width": 221, "height": 214,
  "view": {"stroke": "black", "strokeWidth": 1, "cornerRadius": 18},
  "data": {"name": "effort"},
  "mark": {"type": "text", "fontSize": 27, "align": "left", "baseline": "middle", "dx": -73, "color": "black"},
  "encoding": {
    "y": {"field": "rang", "type": "ordinal", "scale": {"type": "point", "range": [34, 175.5], "padding": 0},
          "axis": {"orient": "right", "offset": 11, "labels": false, "ticks": false, "domain": true, "domainColor": "transparent", "grid": false, "title": null}},
    "text": {"field": "ligne"}
  }
},
{
  "width": 638, "height": 638,
  "layer": [
    {
      "data": {"name": "arriere"},
      "mark": {"type": "line", "interpolate": "catmull-rom", "strokeWidth": 1},
      "encoding": {
        "x": {"field": "moment", "type": "quantitative", "scale": {"domain": [-500, 2000], "nice": false, "zero": false},
              "axis": {"orient": "bottom", "values": [-500, 0, 500, 1000, 1500, 2000], "labelExpr": "'' + datum.value", "ticks": false, "tickSize": 0, "labelPadding": 26, "grid": true, "title": "Moment fléchissant [kN.m]", "titlePadding": -4}},
        "y": {"field": "prof", "type": "quantitative", "scale": {"domain": [-2, 12], "reverse": true, "nice": false, "zero": false},
              "axis": {"orient": "left", "values": [-2, 0, 2, 4, 6, 8, 10, 12], "labelExpr": "'' + datum.value", "ticks": false, "tickSize": 0, "labelPadding": 17, "grid": true, "title": "Profondeur [m]", "titlePadding": 2}},
        "detail": {"field": "charge", "type": "nominal"},
        "order": {"field": "prof", "type": "quantitative"},
        "stroke": {"field": "serie", "type": "nominal", "scale": {"domain": ["Expérience", "GOUPIL - Pm = 0,80", "GOUPIL - Pm = 0,85"], "range": ["black", "#777777", "black"]}, "legend": null},
        "strokeDash": {"field": "serie", "type": "nominal", "scale": {"domain": ["Expérience", "GOUPIL - Pm = 0,80", "GOUPIL - Pm = 0,85"], "range": [[6, 4], [1, 0], [1, 0]]}, "legend": null}
      }
    },
    {
      "data": {"name": "arriere"},
      "mark": {"type": "point", "filled": true, "opacity": 1, "shape": "circle", "strokeWidth": 1},
      "encoding": {
        "x": {"field": "moment", "type": "quantitative", "scale": {"domain": [-500, 2000], "nice": false, "zero": false},
              "axis": {"orient": "bottom", "values": [-500,-400,-300,-200,-100,0,100,200,300,400,500,600,700,800,900,1000,1100,1200,1300,1400,1500,1600,1700,1800,1900,2000], "labels": false, "ticks": true, "tickSize": -8, "grid": false, "title": null}},
        "y": {"field": "prof", "type": "quantitative", "scale": {"domain": [-2, 12], "reverse": true, "nice": false, "zero": false},
              "axis": {"orient": "left", "values": [-2,-1.5,-1,-0.5,0,0.5,1,1.5,2,2.5,3,3.5,4,4.5,5,5.5,6,6.5,7,7.5,8,8.5,9,9.5,10,10.5,11,11.5,12], "labels": false, "ticks": true, "tickSize": -8, "grid": false, "title": null}},
        "fill": {"field": "serie", "type": "nominal", "scale": {"domain": ["Expérience", "GOUPIL - Pm = 0,80", "GOUPIL - Pm = 0,85"], "range": ["white", "#aaaaaa", "black"]}, "legend": null},
        "stroke": {"field": "serie", "type": "nominal", "scale": {"domain": ["Expérience", "GOUPIL - Pm = 0,80", "GOUPIL - Pm = 0,85"], "range": ["black", "#aaaaaa", "black"]}, "legend": null},
        "size": {"field": "serie", "type": "nominal", "scale": {"type": "ordinal", "domain": ["Expérience", "GOUPIL - Pm = 0,80", "GOUPIL - Pm = 0,85"], "range": [170, 200, 200]}, "legend": null}
      }
    },
    {
      "data": {"name": "arriere"},
      "transform": [{"filter": "false"}],
      "mark": {"type": "point", "filled": true, "opacity": 1, "strokeWidth": 1.2},
      "encoding": {
        "x": {"field": "moment", "type": "quantitative", "scale": {"domain": [-500, 2000], "nice": false, "zero": false}, "axis": null},
        "y": {"field": "prof", "type": "quantitative", "scale": {"domain": [-2, 12], "reverse": true, "nice": false, "zero": false}, "axis": null},
        "shape": {"field": "serie", "type": "nominal", "scale": {"domain": ["Expérience", "GOUPIL - Pm = 0,80", "GOUPIL - Pm = 0,85"], "range": ["M-3.52,0L-2.96,0M-2.6,0L-2.04,0M-1.7,0L-1.16,0M1.16,0L1.7,0M2.04,0L2.6,0M2.96,0L3.52,0M1.16,0A1.16,1.16,0,1,1,-1.16,0A1.16,1.16,0,1,1,1.16,0Z", "M-3.52,0L-1.16,0M1.16,0L3.52,0M1.16,0A1.16,1.16,0,1,1,-1.16,0A1.16,1.16,0,1,1,1.16,0Z", "M-3.52,0L-1.16,0M1.16,0L3.52,0M1.16,0A1.16,1.16,0,1,1,-1.16,0A1.16,1.16,0,1,1,1.16,0Z"]},
                  "legend": {"title": "Pieu arrière", "orient": "none", "legendX": 247, "legendY": 413, "direction": "vertical", "padding": 14, "strokeColor": "black", "cornerRadius": 18, "fillColor": "white", "titleFontSize": 25, "titleAnchor": "middle", "titlePadding": 35.4, "labelFontSize": 25.5, "labelOffset": 61.5, "labelLimit": 400, "symbolSize": 625, "symbolOffset": 29, "rowPadding": 16.5}},
        "fill": {"field": "serie", "type": "nominal", "scale": {"domain": ["Expérience", "GOUPIL - Pm = 0,80", "GOUPIL - Pm = 0,85"], "range": ["white", "#aaaaaa", "black"]},
                  "legend": {"title": "Pieu arrière", "orient": "none", "legendX": 247, "legendY": 413, "direction": "vertical", "padding": 14, "strokeColor": "black", "cornerRadius": 18, "fillColor": "white", "titleFontSize": 25, "titleAnchor": "middle", "titlePadding": 35.4, "labelFontSize": 25.5, "labelOffset": 61.5, "labelLimit": 400, "symbolSize": 625, "symbolOffset": 29, "rowPadding": 16.5}},
        "stroke": {"field": "serie", "type": "nominal", "scale": {"domain": ["Expérience", "GOUPIL - Pm = 0,80", "GOUPIL - Pm = 0,85"], "range": ["black", "#888888", "black"]},
                  "legend": {"title": "Pieu arrière", "orient": "none", "legendX": 247, "legendY": 413, "direction": "vertical", "padding": 14, "strokeColor": "black", "cornerRadius": 18, "fillColor": "white", "titleFontSize": 25, "titleAnchor": "middle", "titlePadding": 35.4, "labelFontSize": 25.5, "labelOffset": 61.5, "labelLimit": 400, "symbolSize": 625, "symbolOffset": 29, "rowPadding": 16.5}}
      }
    },
    {
      "data": {"name": "numArriere"},
      "mark": {"type": "text", "fontSize": 29, "align": "center", "baseline": "middle", "color": "black"},
      "encoding": {
        "x": {"field": "moment", "type": "quantitative", "scale": {"domain": [-500, 2000], "nice": false, "zero": false},
              "axis": {"orient": "top", "values": [-500,-400,-300,-200,-100,0,100,200,300,400,500,600,700,800,900,1000,1100,1200,1300,1400,1500,1600,1700,1800,1900,2000], "labels": false, "ticks": true, "tickSize": -8, "grid": false, "title": null}},
        "y": {"field": "prof", "type": "quantitative", "scale": {"domain": [-2, 12], "reverse": true, "nice": false, "zero": false},
              "axis": {"orient": "right", "values": [-2,-1.5,-1,-0.5,0,0.5,1,1.5,2,2.5,3,3.5,4,4.5,5,5.5,6,6.5,7,7.5,8,8.5,9,9.5,10,10.5,11,11.5,12], "labels": false, "ticks": true, "tickSize": -8, "grid": false, "title": null}},
        "text": {"field": "num"}
      }
    }
  ],
  "resolve": {"axis": {"x": "independent", "y": "independent"}, "scale": {"stroke": "independent", "fill": "independent", "shape": "independent"}}
}
]
}
